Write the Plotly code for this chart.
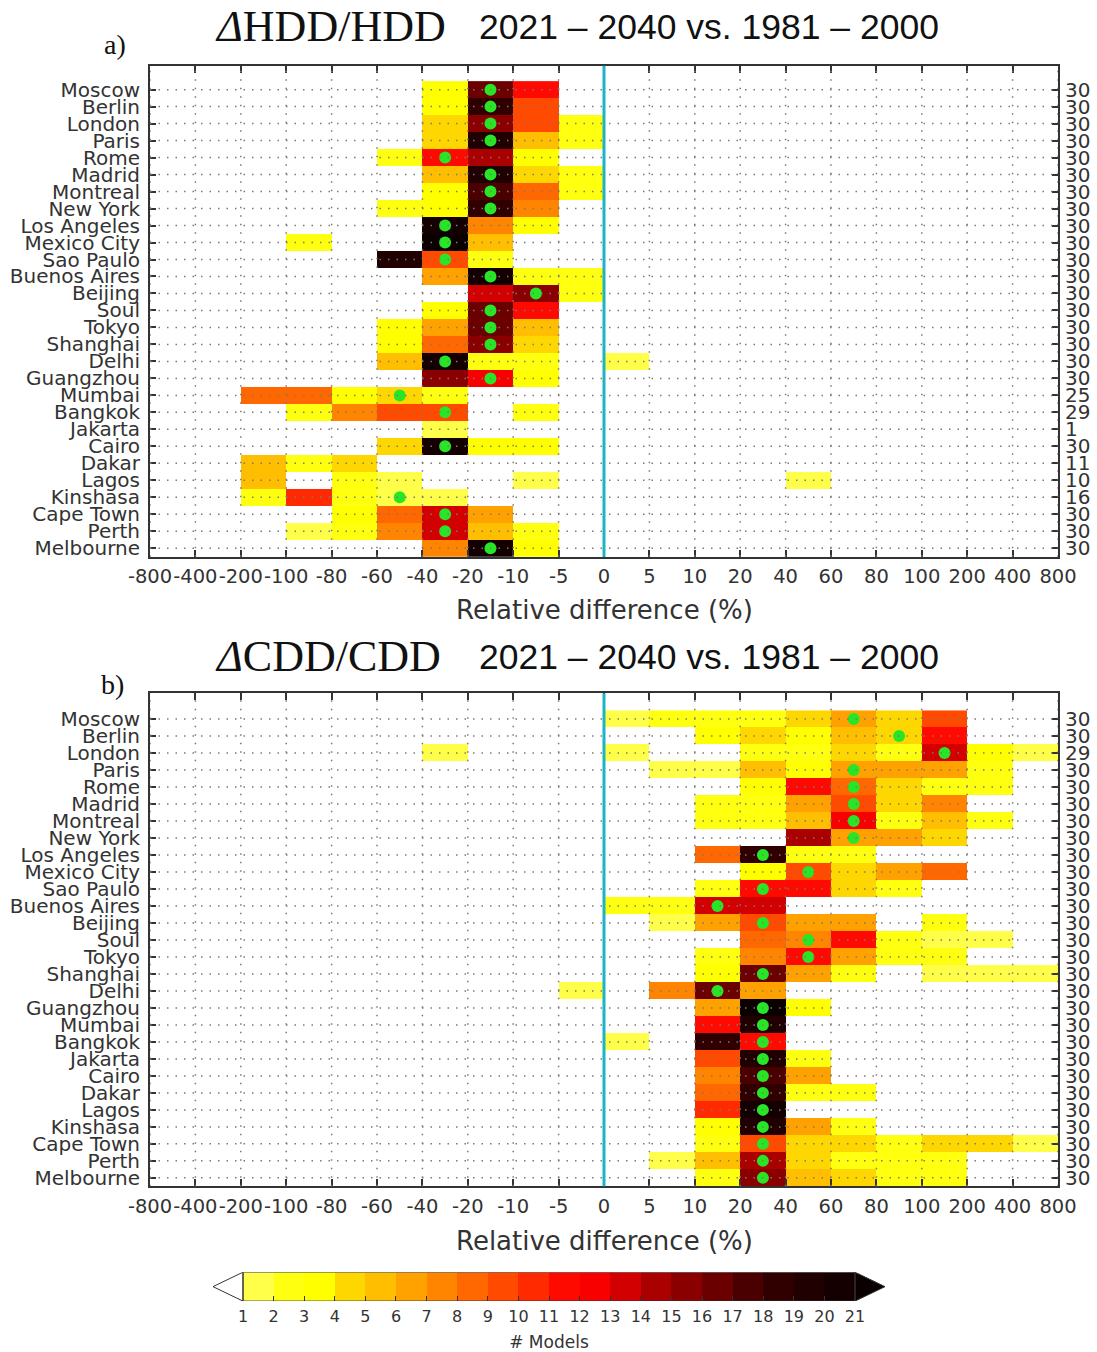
import plotly.graph_objects as go

W, H = 1097, 1352
ML, MR = 150, 39

cities = ["Moscow", "Berlin", "London", "Paris", "Rome", "Madrid", "Montreal", "New York",
          "Los Angeles", "Mexico City", "Sao Paulo", "Buenos Aires", "Beijing", "Soul", "Tokyo",
          "Shanghai", "Delhi", "Guangzhou", "Mumbai", "Bangkok", "Jakarta", "Cairo", "Dakar",
          "Lagos", "Kinshasa", "Cape Town", "Perth", "Melbourne"]

bin_edge_labels = ["-800", "-400", "-200", "-100", "-80", "-60", "-40", "-20", "-10", "-5", "0",
                   "5", "10", "20", "40", "60", "80", "100", "200", "400", "800"]

# number of models per bin (20 bins between the edges above)
hdd_counts = [
    [0, 0, 0, 0, 0, 0, 3, 16, 11, 0, 0, 0, 0, 0, 0, 0, 0, 0, 0, 0],
    [0, 0, 0, 0, 0, 0, 3, 18, 9, 0, 0, 0, 0, 0, 0, 0, 0, 0, 0, 0],
    [0, 0, 0, 0, 0, 0, 4, 15, 9, 2, 0, 0, 0, 0, 0, 0, 0, 0, 0, 0],
    [0, 0, 0, 0, 0, 0, 4, 19, 5, 2, 0, 0, 0, 0, 0, 0, 0, 0, 0, 0],
    [0, 0, 0, 0, 0, 2, 11, 14, 3, 0, 0, 0, 0, 0, 0, 0, 0, 0, 0, 0],
    [0, 0, 0, 0, 0, 0, 5, 19, 4, 2, 0, 0, 0, 0, 0, 0, 0, 0, 0, 0],
    [0, 0, 0, 0, 0, 0, 3, 17, 8, 2, 0, 0, 0, 0, 0, 0, 0, 0, 0, 0],
    [0, 0, 0, 0, 0, 2, 3, 18, 7, 0, 0, 0, 0, 0, 0, 0, 0, 0, 0, 0],
    [0, 0, 0, 0, 0, 0, 20, 7, 3, 0, 0, 0, 0, 0, 0, 0, 0, 0, 0, 0],
    [0, 0, 0, 2, 0, 0, 23, 5, 0, 0, 0, 0, 0, 0, 0, 0, 0, 0, 0, 0],
    [0, 0, 0, 0, 0, 19, 9, 2, 0, 0, 0, 0, 0, 0, 0, 0, 0, 0, 0, 0],
    [0, 0, 0, 0, 0, 0, 6, 20, 2, 2, 0, 0, 0, 0, 0, 0, 0, 0, 0, 0],
    [0, 0, 0, 0, 0, 0, 0, 13, 15, 2, 0, 0, 0, 0, 0, 0, 0, 0, 0, 0],
    [0, 0, 0, 0, 0, 0, 3, 16, 11, 0, 0, 0, 0, 0, 0, 0, 0, 0, 0, 0],
    [0, 0, 0, 0, 0, 3, 6, 16, 5, 0, 0, 0, 0, 0, 0, 0, 0, 0, 0, 0],
    [0, 0, 0, 0, 0, 3, 8, 15, 4, 0, 0, 0, 0, 0, 0, 0, 0, 0, 0, 0],
    [0, 0, 0, 0, 0, 5, 20, 2, 2, 0, 1, 0, 0, 0, 0, 0, 0, 0, 0, 0],
    [0, 0, 0, 0, 0, 0, 15, 12, 3, 0, 0, 0, 0, 0, 0, 0, 0, 0, 0, 0],
    [0, 0, 8, 8, 3, 4, 2, 0, 0, 0, 0, 0, 0, 0, 0, 0, 0, 0, 0, 0],
    [0, 0, 0, 2, 7, 9, 9, 0, 2, 0, 0, 0, 0, 0, 0, 0, 0, 0, 0, 0],
    [0, 0, 0, 0, 0, 0, 1, 0, 0, 0, 0, 0, 0, 0, 0, 0, 0, 0, 0, 0],
    [0, 0, 0, 0, 0, 4, 20, 3, 3, 0, 0, 0, 0, 0, 0, 0, 0, 0, 0, 0],
    [0, 0, 5, 2, 4, 0, 0, 0, 0, 0, 0, 0, 0, 0, 0, 0, 0, 0, 0, 0],
    [0, 0, 5, 0, 2, 1, 0, 0, 1, 0, 0, 0, 0, 0, 1, 0, 0, 0, 0, 0],
    [0, 0, 2, 10, 2, 1, 1, 0, 0, 0, 0, 0, 0, 0, 0, 0, 0, 0, 0, 0],
    [0, 0, 0, 0, 3, 8, 13, 6, 0, 0, 0, 0, 0, 0, 0, 0, 0, 0, 0, 0],
    [0, 0, 0, 1, 2, 7, 13, 5, 2, 0, 0, 0, 0, 0, 0, 0, 0, 0, 0, 0],
    [0, 0, 0, 0, 0, 0, 7, 20, 3, 0, 0, 0, 0, 0, 0, 0, 0, 0, 0, 0],
]

cdd_counts = [
    [0, 0, 0, 0, 0, 0, 0, 0, 0, 0, 1, 2, 2, 2, 4, 6, 4, 9, 0, 0],
    [0, 0, 0, 0, 0, 0, 0, 0, 0, 0, 0, 0, 3, 4, 3, 5, 4, 11, 0, 0],
    [0, 0, 0, 0, 0, 0, 1, 0, 0, 0, 1, 0, 0, 2, 2, 4, 2, 13, 3, 1],
    [0, 0, 0, 0, 0, 0, 0, 0, 0, 0, 0, 1, 1, 5, 3, 6, 6, 6, 2, 0],
    [0, 0, 0, 0, 0, 0, 0, 0, 0, 0, 0, 0, 0, 3, 11, 8, 4, 2, 2, 0],
    [0, 0, 0, 0, 0, 0, 0, 0, 0, 0, 0, 0, 2, 2, 6, 9, 4, 7, 0, 0],
    [0, 0, 0, 0, 0, 0, 0, 0, 0, 0, 0, 0, 2, 2, 5, 12, 2, 5, 2, 0],
    [0, 0, 0, 0, 0, 0, 0, 0, 0, 0, 0, 0, 0, 0, 14, 6, 6, 4, 0, 0],
    [0, 0, 0, 0, 0, 0, 0, 0, 0, 0, 0, 0, 8, 18, 2, 2, 0, 0, 0, 0],
    [0, 0, 0, 0, 0, 0, 0, 0, 0, 0, 0, 0, 0, 3, 9, 4, 6, 8, 0, 0],
    [0, 0, 0, 0, 0, 0, 0, 0, 0, 0, 0, 0, 2, 11, 11, 4, 2, 0, 0, 0],
    [0, 0, 0, 0, 0, 0, 0, 0, 0, 0, 2, 2, 13, 13, 0, 0, 0, 0, 0, 0],
    [0, 0, 0, 0, 0, 0, 0, 0, 0, 0, 0, 1, 6, 9, 6, 6, 0, 2, 0, 0],
    [0, 0, 0, 0, 0, 0, 0, 0, 0, 0, 0, 0, 0, 8, 7, 11, 2, 1, 1, 0],
    [0, 0, 0, 0, 0, 0, 0, 0, 0, 0, 0, 0, 2, 7, 11, 6, 2, 2, 0, 0],
    [0, 0, 0, 0, 0, 0, 0, 0, 0, 0, 0, 0, 3, 16, 6, 2, 0, 1, 1, 1],
    [0, 0, 0, 0, 0, 0, 0, 0, 0, 1, 0, 7, 16, 6, 0, 0, 0, 0, 0, 0],
    [0, 0, 0, 0, 0, 0, 0, 0, 0, 0, 0, 0, 6, 21, 3, 0, 0, 0, 0, 0],
    [0, 0, 0, 0, 0, 0, 0, 0, 0, 0, 0, 0, 11, 19, 0, 0, 0, 0, 0, 0],
    [0, 0, 0, 0, 0, 0, 0, 0, 0, 0, 1, 0, 18, 11, 0, 0, 0, 0, 0, 0],
    [0, 0, 0, 0, 0, 0, 0, 0, 0, 0, 0, 0, 9, 19, 2, 0, 0, 0, 0, 0],
    [0, 0, 0, 0, 0, 0, 0, 0, 0, 0, 0, 0, 7, 17, 6, 0, 0, 0, 0, 0],
    [0, 0, 0, 0, 0, 0, 0, 0, 0, 0, 0, 0, 8, 18, 2, 2, 0, 0, 0, 0],
    [0, 0, 0, 0, 0, 0, 0, 0, 0, 0, 0, 0, 10, 20, 0, 0, 0, 0, 0, 0],
    [0, 0, 0, 0, 0, 0, 0, 0, 0, 0, 0, 0, 3, 19, 6, 2, 0, 0, 0, 0],
    [0, 0, 0, 0, 0, 0, 0, 0, 0, 0, 0, 0, 2, 9, 4, 4, 2, 4, 4, 1],
    [0, 0, 0, 0, 0, 0, 0, 0, 0, 0, 0, 1, 5, 14, 4, 2, 2, 2, 0, 0],
    [0, 0, 0, 0, 0, 0, 0, 0, 0, 0, 0, 0, 2, 15, 5, 4, 2, 2, 0, 0],
]

# bin index of the green marker (None = no marker)
hdd_marker_bin = [7, 7, 7, 7, 6, 7, 7, 7, 6, 6, 6, 7, 8, 7, 7, 7, 6, 7, 5, 6, None, 6,
                  None, None, 5, 6, 6, 7]
cdd_marker_bin = [15, 16, 17, 15, 15, 15, 15, 15, 13, 14, 13, 12, 13, 14, 14, 13, 12, 13,
                  13, 13, 13, 13, 13, 13, 13, 13, 13, 13]

hdd_totals = [30] * 18 + [25, 29, 1, 30, 11, 10, 16, 30, 30, 30]
cdd_totals = [30, 30, 29] + [30] * 25

colorbar_ticks = list(range(1, 22))

level_colors = ["#ffff4a", "#ffff10", "#ffff00", "#ffd700", "#ffbf00", "#ffa200",
                "#ff8400", "#ff6700", "#ff4a00", "#ff2a00", "#ff0a00", "#f80000",
                "#d20000", "#ab0000", "#8a0000", "#6a0000", "#4a0000", "#300000",
                "#200000", "#140000", "#0a0000"]

nlev = len(level_colors)
colorscale = []
for i, c in enumerate(level_colors):
    colorscale.append([i / nlev, c])
    colorscale.append([(i + 1) / nlev, c])

FONT = "DejaVu Sans"
TXT = "#333333"
GRID = dict(color="#7a7a7a", width=1.5, dash="1.5px,7px")


def py(p):
    return 1 - p / H


def px(p):
    return (p - ML) / (W - ML - MR)


fig = go.Figure()

panels = [
    dict(counts=hdd_counts, marks=hdd_marker_bin, totals=hdd_totals, xa="x", ya="y",
         top=66, bot=558, yr=[27.5, -1.4], title="<i>Δ</i>HDD/HDD", tag="a)",
         ty=27, tagy=45, tagx=115, xtitle_y=611),
    dict(counts=cdd_counts, marks=cdd_marker_bin, totals=cdd_totals, xa="x2", ya="y2",
         top=695, bot=1189, yr=[27.5, -1.5], title="<i>Δ</i>CDD/CDD", tag="b)",
         ty=658, tagy=686, tagx=112, xtitle_y=1244),
]

nbins = len(bin_edge_labels) - 1
ncity = len(cities)
shapes = []
annotations = []
layout_axes = {}

for k, p in enumerate(panels):
    z = [[(v if v > 0 else None) for v in row] for row in p["counts"]]
    fig.add_trace(go.Heatmap(
        z=z, x=[i + 0.5 for i in range(nbins)], y=list(range(ncity)),
        colorscale=colorscale, zmin=0.5, zmax=21.5, showscale=False,
        xaxis=p["xa"], yaxis=p["ya"], hoverongaps=False))
    mx = [b + 0.5 for b in p["marks"] if b is not None]
    my = [i for i, b in enumerate(p["marks"]) if b is not None]
    fig.add_trace(go.Scatter(
        x=mx, y=my, mode="markers", xaxis=p["xa"], yaxis=p["ya"],
        marker=dict(size=12, color="#26e626", line=dict(width=0)), showlegend=False))

    suffix = "" if k == 0 else "2"
    xref = p["xa"]
    yref = p["ya"]
    # dotted grid on top of the cells
    for e in range(nbins + 1):
        shapes.append(dict(type="line", xref=xref, yref=yref + " domain", x0=e, x1=e, y0=0, y1=1,
                           line=GRID, layer="above"))
    for r in range(ncity):
        shapes.append(dict(type="line", xref=xref + " domain", yref=yref, x0=0, x1=1, y0=r, y1=r,
                           line=GRID, layer="above"))
    zero_idx = bin_edge_labels.index("0")
    shapes.append(dict(type="line", xref=xref, yref=yref + " domain", x0=zero_idx, x1=zero_idx,
                       y0=0, y1=1, line=dict(color="#1db4c4", width=3), layer="above"))

    dom = [py(p["bot"]), py(p["top"])]
    layout_axes["xaxis" + suffix] = dict(
        domain=[0, 1], range=[0, nbins], anchor=yref, tickmode="array",
        tickvals=list(range(nbins + 1)), ticktext=bin_edge_labels, tickangle=0,
        ticks="inside", ticklen=7, tickwidth=1.5, tickcolor="#333",
        showline=True, linecolor="#333", linewidth=2, mirror="allticks",
        showgrid=False, zeroline=False, ticklabelstandoff=1,
        tickfont=dict(family=FONT, size=19.5, color=TXT))
    layout_axes["yaxis" + suffix] = dict(
        domain=dom, range=p["yr"], anchor=xref, tickmode="array",
        tickvals=list(range(ncity)), ticktext=cities,
        ticks="inside", ticklen=6, tickwidth=1.5, tickcolor="#333",
        showline=True, linecolor="#333", linewidth=2, mirror="allticks",
        showgrid=False, zeroline=False, ticklabelstandoff=4,
        tickfont=dict(family=FONT, size=20, color=TXT))

    for r, t in enumerate(p["totals"]):
        annotations.append(dict(x=1, xref=xref + " domain", y=r, yref=yref, text=str(t),
                                showarrow=False, xanchor="left", yanchor="middle", xshift=5,
                                font=dict(family=FONT, size=20, color=TXT)))
    annotations.append(dict(x=0.5, xref=xref + " domain", y=py(p["xtitle_y"]), yref="paper",
                            text="Relative difference (%)", showarrow=False,
                            xanchor="center", yanchor="middle",
                            font=dict(family=FONT, size=26, color=TXT)))
    annotations.append(dict(x=px(213), xref="paper", y=py(p["ty"]), yref="paper",
                            text=p["title"], showarrow=False, xanchor="left", yanchor="middle",
                            font=dict(family="Liberation Serif", size=44, color="#111")))
    annotations.append(dict(x=px(477), xref="paper", y=py(p["ty"]), yref="paper",
                            text="2021 \u2013 2040 vs. 1981 \u2013 2000", showarrow=False,
                            xanchor="left", yanchor="middle",
                            font=dict(family="Liberation Sans", size=35.5, color="#111")))
    annotations.append(dict(x=px(p["tagx"]), xref="paper", y=py(p["tagy"]), yref="paper",
                            text=p["tag"], showarrow=False, xanchor="center", yanchor="middle",
                            font=dict(family="Liberation Serif", size=28, color="#111")))

# colour bar as its own small panel
fig.add_trace(go.Heatmap(
    z=[[i for i in colorbar_ticks[:-1]]], x=[i + 0.5 for i in colorbar_ticks[:-1]], y=[0.5],
    colorscale=colorscale, zmin=0.5, zmax=21.5, showscale=False, xaxis="x3", yaxis="y3"))
layout_axes["xaxis3"] = dict(
    domain=[px(213), px(885)], range=[0.02, 21.98], anchor="y3", tickmode="array",
    tickvals=colorbar_ticks, ticktext=[str(t) for t in colorbar_ticks], tickangle=0,
    ticks="inside", ticklen=5, tickcolor="#333", showgrid=False, zeroline=False,
    showline=False, ticklabelstandoff=4,
    tickfont=dict(family=FONT, size=16, color=TXT),
    title=dict(text="# Models", font=dict(family=FONT, size=17, color=TXT), standoff=10))
layout_axes["yaxis3"] = dict(domain=[py(1304), py(1275)], range=[0, 1], anchor="x3",
                             visible=False)
shapes.append(dict(type="path", xref="x3", yref="y3", path="M 1,0 L 0.02,0.5 L 1,1 Z",
                   fillcolor="white", line=dict(color="#333", width=1)))
shapes.append(dict(type="path", xref="x3", yref="y3", path="M 21,0 L 21.98,0.5 L 21,1 Z",
                   fillcolor=level_colors[-1], line=dict(color="#333", width=1)))
shapes.append(dict(type="rect", xref="x3", yref="y3", x0=1, x1=21, y0=0, y1=1,
                   line=dict(color="#333", width=1), layer="above"))

fig.update_layout(
    width=W, height=H, margin=dict(l=ML, r=MR, t=0, b=0),
    paper_bgcolor="white", plot_bgcolor="white", showlegend=False,
    shapes=shapes, annotations=annotations, **layout_axes)

fig.write_html("out.html")
